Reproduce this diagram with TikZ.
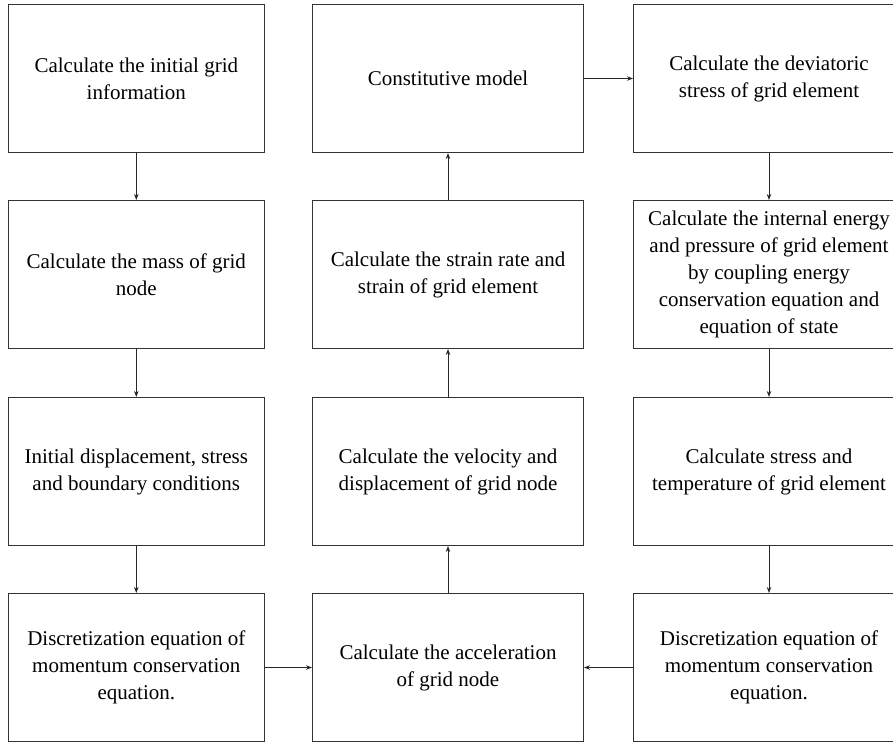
\documentclass[tikz,border=0pt]{standalone}
\usepackage{fontspec}
\setmainfont{Liberation Serif}
\usetikzlibrary{arrows.meta,positioning}
\pgfdeclarelayer{edgelayer}
\pgfdeclarelayer{nodelayer}
\pgfsetlayers{edgelayer,nodelayer,main}
\tikzstyle{stepbox}=[rectangle, draw=black!80, line width=1pt, align=center, minimum height=148pt, inner sep=0pt, font=\fontsize{21}{27}\selectfont]
\tikzstyle{narrowbox}=[stepbox, minimum width=255.5pt]
\tikzstyle{widebox}=[stepbox, minimum width=271pt]
\tikzstyle{flow}=[-{Stealth[length=6pt,width=4.5pt]}, draw=black!85, line width=1pt]

\begin{document}
\begin{tikzpicture}[x=1pt,y=-1pt]
	\useasboundingbox (0,0) rectangle (893,742);
	\begin{pgfonlayer}{nodelayer}
		\node [style=narrowbox] (init) at (136.3,78.5) {Calculate the initial grid\\information};
		\node [style=narrowbox] (mass) at (136.3,274.5) {Calculate the mass of grid\\node};
		\node [style=narrowbox] (bound) at (136.3,471.5) {Initial displacement, stress\\and boundary conditions};
		\node [style=narrowbox] (discL) at (136.3,667.5) {Discretization equation of\\momentum conservation\\equation.};

		\node [style=widebox] (model) at (448,78.5) {Constitutive model};
		\node [style=widebox] (strain) at (448,274.5) {Calculate the strain rate and\\strain of grid element};
		\node [style=widebox] (veloc) at (448,471.5) {Calculate the velocity and\\displacement of grid node};
		\node [style=widebox] (accel) at (448,667.5) {Calculate the acceleration\\of grid node};

		\node [style=widebox] (devia) at (769,78.5) {Calculate the deviatoric\\stress of grid element};
		\node [style=widebox] (energy) at (769,274.5) {Calculate the internal energy\\and pressure of grid element\\by coupling energy\\conservation equation and\\equation of state};
		\node [style=widebox] (temp) at (769,471.5) {Calculate stress and\\temperature of grid element};
		\node [style=widebox] (discR) at (769,667.5) {Discretization equation of\\momentum conservation\\equation.};
	\end{pgfonlayer}
	\begin{pgfonlayer}{edgelayer}
		\draw [style=flow] (init) to (mass);
		\draw [style=flow] (mass) to (bound);
		\draw [style=flow] (bound) to (discL);
		\draw [style=flow] (discL) to (accel);
		\draw [style=flow] (accel) to (veloc);
		\draw [style=flow] (veloc) to (strain);
		\draw [style=flow] (strain) to (model);
		\draw [style=flow] (model) to (devia);
		\draw [style=flow] (devia) to (energy);
		\draw [style=flow] (energy) to (temp);
		\draw [style=flow] (temp) to (discR);
		\draw [style=flow] (discR) to (accel);
	\end{pgfonlayer}
\end{tikzpicture}
\end{document}
